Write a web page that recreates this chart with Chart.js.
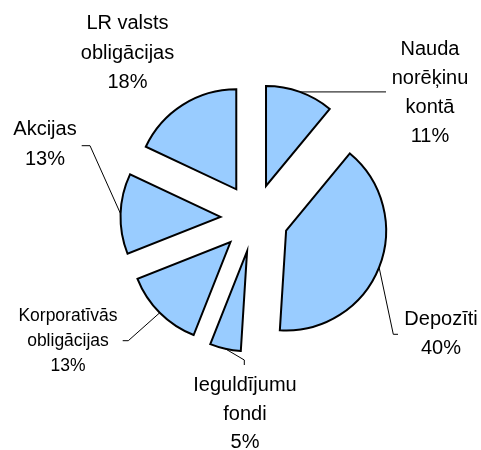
<!DOCTYPE html>
<html>
<head>
<meta charset="utf-8">
<script src="https://cdn.jsdelivr.net/npm/chart.js@4"></script>
<style>
  html, body { margin: 0; padding: 0; background: #fff; }
  #wrap { width: 481px; height: 450px; }
</style>
</head>
<body>
<div id="wrap"><canvas id="portfolioChart"></canvas></div>
<script>
const categories = [
  ["Nauda", "norēķinu", "kontā"],
  ["Depozīti"],
  ["Ieguldījumu", "fondi"],
  ["Korporatīvās", "obligācijas"],
  ["Akcijas"],
  ["LR valsts", "obligācijas"]
];
const shares = [11, 40, 5, 13, 13, 18];
const sliceColor = "#99ccff";

// how far every slice is pulled out of the pie, px
const explode = 34;

// label text: x of centre and first baseline relative to pie centre, font size, line height
const labelPlaces = [
  [175.5, -163, 20, 29],
  [186.5, 107, 20, 28.5],
  [-9.5, 173, 20, 28.5],
  [-186.5, 103, 17.5, 25],
  [-209.5, -83, 20, 30],
  [-127, -189, 20, 29.5]
];

// leader line bends (relative to pie centre), starting from the slice's outer edge
const leaderBends = [
  [[131.5, -126.1]],
  [[138.8, 116.3], [143.5, 116.3]],
  [[-10.2, 142], [-10.2, 147]],
  [[-126.2, 122.7], [-131.8, 122.7]],
  [[-164.5, -72.3], [-172.8, -72.3]],
  []
];

function midAngle(arc) {
  return (arc.startAngle + arc.endAngle) / 2;
}

// move the slices out while they are drawn, put them back afterwards
const explodePlugin = {
  id: "explode",
  beforeDatasetDraw(chart, args) {
    args.meta.data.forEach(arc => {
      const a = midAngle(arc);
      arc.x += Math.cos(a) * explode;
      arc.y += Math.sin(a) * explode;
    });
  },
  afterDatasetDraw(chart, args) {
    args.meta.data.forEach(arc => {
      const a = midAngle(arc);
      arc.x -= Math.cos(a) * explode;
      arc.y -= Math.sin(a) * explode;
    });
  }
};

const labelPlugin = {
  id: "sliceLabels",
  afterDraw(chart) {
    const ctx = chart.ctx;
    const arcs = chart.getDatasetMeta(0).data;
    const cx = arcs[0].x;
    const cy = arcs[0].y;
    ctx.save();
    ctx.fillStyle = "#000";
    ctx.strokeStyle = "#000";
    ctx.lineWidth = 1;
    ctx.textAlign = "center";
    ctx.textBaseline = "alphabetic";
    arcs.forEach((arc, i) => {
      const a = midAngle(arc);
      const r = explode + arc.outerRadius;
      const bends = leaderBends[i];
      if (bends.length) {
        ctx.beginPath();
        ctx.moveTo(cx + Math.cos(a) * r, cy + Math.sin(a) * r);
        bends.forEach(([bx, by]) => ctx.lineTo(cx + bx, cy + by));
        ctx.stroke();
      }
      const [lx, ly, size, lineH] = labelPlaces[i];
      ctx.font = size + "px 'Liberation Sans', Arial, sans-serif";
      const lines = chart.data.labels[i].concat(shares[i] + "%");
      lines.forEach((t, k) => ctx.fillText(t, cx + lx, cy + ly + k * lineH));
    });
    ctx.restore();
  }
};

new Chart("portfolioChart", {
  type: "pie",
  data: {
    labels: categories,
    datasets: [{
      data: shares,
      backgroundColor: sliceColor,
      borderColor: "#000",
      borderWidth: 2,
      borderJoinStyle: "miter"
    }]
  },
  options: {
    responsive: true,
    maintainAspectRatio: false,
    animation: false,
    events: [],
    radius: 100,
    layout: {
      padding: { left: 28, right: 0, top: 0, bottom: 14 }
    },
    plugins: {
      legend: { display: false },
      tooltip: { enabled: false }
    }
  },
  plugins: [explodePlugin, labelPlugin]
});
</script>
</body>
</html>
